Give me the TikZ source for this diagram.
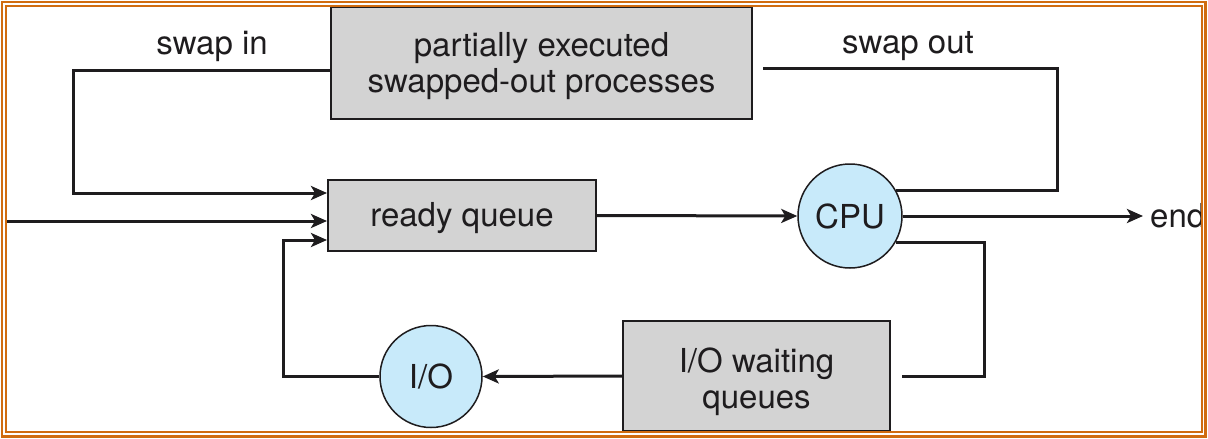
\documentclass[tikz,border=0pt]{standalone}
\usepackage{fontspec}
\setmainfont{TeX Gyre Heros}
\usetikzlibrary{arrows.meta}
\definecolor{frameor}{RGB}{208,108,16}
\definecolor{boxgray}{RGB}{211,211,211}
\definecolor{cpublue}{RGB}{200,234,250}
\definecolor{inkc}{RGB}{30,28,30}
\tikzset{
  every node/.style={font=\fontsize{33}{36}\selectfont, text=inkc},
  qbox/.style={draw=inkc, line width=2pt, fill=boxgray, inner sep=0pt},
  qtext/.style={align=center, inner sep=0pt},
  proc/.style={draw=inkc, line width=1.5pt, fill=cpublue, circle, minimum size=104pt, inner sep=0pt},
  conn/.style={draw=inkc, line width=3pt},
  arr/.style={conn, -{Stealth[length=16pt,width=14pt,inset=4pt]}},
  lbl/.style={inner sep=0pt},
}
\begin{document}
\begin{tikzpicture}[x=1pt,y=-1pt]
\useasboundingbox (0,0) rectangle (1208,439);
% boxes
\node[qbox, minimum width=421pt, minimum height=112pt] (top) at (541.5,63) {};
\node[qtext] (toptext) at (541.5,66) {partially executed\\swapped-out processes};
\node[qbox, minimum width=268pt, minimum height=71pt] (rq) at (462,215.5) {};
\node[qtext] (rqtext) at (462,218) {ready queue};
\node[qbox, minimum width=267pt, minimum height=110pt] (iow) at (756.5,376) {};
\node[qtext] (iowtext) at (756.5,382) {I/O waiting\\queues};
\node[proc] (cpu) at (850,216) {CPU};
\node[proc, minimum size=102pt] (io) at (431,376.5) {I/O};
% labels
\node[lbl] (swin) at (212,46) {swap in};
\node[lbl] (swout) at (908,46) {swap out};
\node[lbl, anchor=west] (endn) at (1150,216) {end};
% coordinates
\coordinate (si) at (73,70);
\coordinate (start) at (7,221);
\coordinate (ioL) at (283,376.5);
\coordinate (so) at (1057,68);
\coordinate (soEnd) at (763,68);
\coordinate (rb) at (984,376);
\coordinate (rbEnd) at (902,376);
% connectors
\draw[arr] ([yshift=-7pt]top.west) -- (si) |- (rq.west |- 0,193);
\draw[arr] (start) -- (rq.west |- start);
\draw[arr] (io.west) -- (ioL) |- (rq.west |- 0,240);
\draw[arr] (rq.east) -- (cpu.west);
\draw[arr] (cpu.east) -- ([xshift=-7pt]endn.west |- cpu.east);
\draw[conn] (cpu.29) -| (so) -- (soEnd);
\draw[conn] (cpu.-30) -| (rb) -- (rbEnd);
\draw[arr] (iow.west) -- (io.east);
% frame
\fill[white] (1202,0) rectangle (1208,439);
\draw[frameor, line width=2.5pt] (2,2) rectangle (1205.5,436.5);
\draw[frameor, line width=2.5pt] (6,6) rectangle (1202,432);
\end{tikzpicture}
\end{document}
